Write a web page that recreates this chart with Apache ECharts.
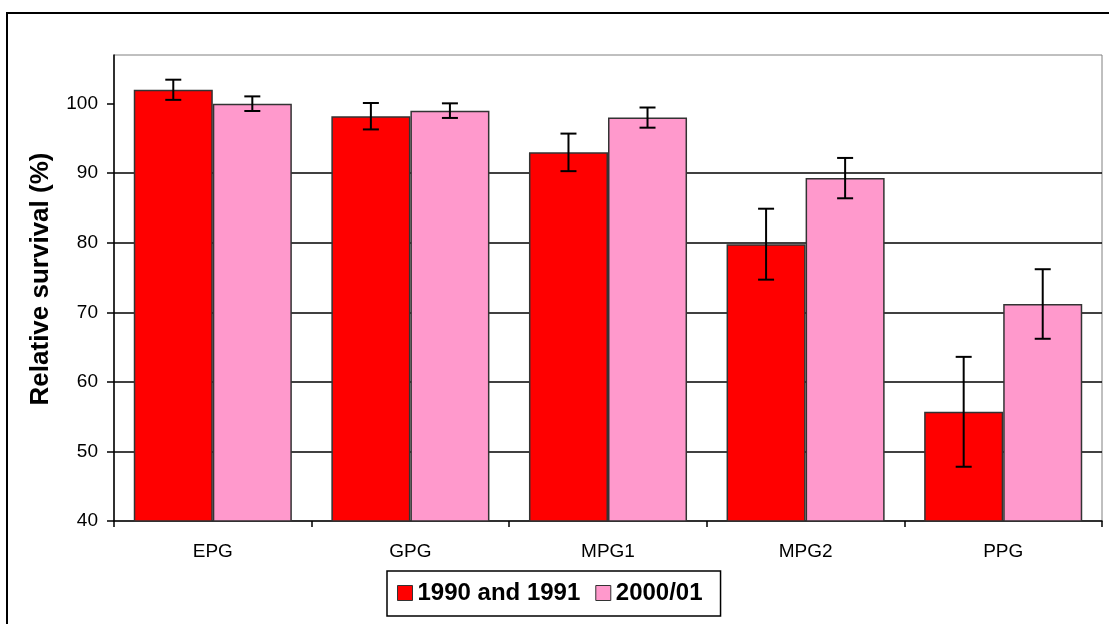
<!DOCTYPE html>
<html>
<head>
<meta charset="utf-8">
<script src="https://cdn.jsdelivr.net/npm/echarts@6/dist/echarts.min.js"></script>
<style>
html,body{margin:0;padding:0;background:#fff;}
#c{width:1109px;height:624px;}
</style>
</head>
<body>
<div id="c"></div>
<script>
const categories = ['EPG', 'GPG', 'MPG1', 'MPG2', 'PPG'];
const seriesNames = ['1990 and 1991', '2000/01'];
const values1990 = [102.0, 98.2, 93.0, 79.8, 55.7];
const errors1990 = [1.45, 1.9, 2.7, 5.1, 7.9];
const values2000 = [100.0, 99.0, 98.0, 89.3, 71.2];
const errors2000 = [1.05, 1.05, 1.45, 2.9, 5.0];
const yTicks = [40, 50, 60, 70, 80, 90, 100];
const yTitle = 'Relative survival (%)';

const FONT = '"Liberation Sans", Arial, sans-serif';
const colors = ['#FF0000', '#FF99CC'];

function errData(vals, errs) {
  return vals.map((v, i) => [i, v - errs[i], v + errs[i]]);
}

function errRender(side) {
  return function (params, api) {
    const i = api.value(0);
    const band = api.size([1, 0])[0];
    const c = api.coord([i, api.value(1)]);
    const x = c[0] + side * band * 0.2;
    const yLow = c[1];
    const yHigh = api.coord([i, api.value(2)])[1];
    const cap = 8;
    const style = { stroke: '#000', lineWidth: 2 };
    return {
      type: 'group',
      children: [
        { type: 'line', shape: { x1: x, y1: yLow, x2: x, y2: yHigh }, style },
        { type: 'line', shape: { x1: x - cap, y1: yLow, x2: x + cap, y2: yLow }, style },
        { type: 'line', shape: { x1: x - cap, y1: yHigh, x2: x + cap, y2: yHigh }, style }
      ]
    };
  };
}

const chart = echarts.init(document.getElementById('c'), null, { renderer: 'canvas' });
chart.setOption({
  animation: false,
  backgroundColor: '#fff',
  textStyle: { fontFamily: FONT },
  grid: {
    left: 114, top: 55, right: 7, bottom: 103,
    show: true, borderColor: '#808080', borderWidth: 1, backgroundColor: 'transparent'
  },
  legend: {
    left: 387, top: 571,
    padding: [10, 18, 11, 10],
    borderColor: '#000', borderWidth: 1.5,
    itemWidth: 15, itemHeight: 15, itemGap: 15,
    textStyle: { fontFamily: FONT, fontSize: 24, fontWeight: 'bold', color: '#000' },
    data: seriesNames.map((n, i) => ({ name: n, icon: 'rect', itemStyle: { color: colors[i], borderColor: '#333', borderWidth: 1 } }))
  },
  xAxis: {
    type: 'category',
    data: categories,
    axisLine: { lineStyle: { color: '#000', width: 1.5 } },
    axisTick: { show: true, length: 6, alignWithLabel: false, lineStyle: { color: '#000', width: 1.5 } },
    axisLabel: { margin: 21, fontSize: 19, color: '#000', fontFamily: FONT },
    splitLine: { show: false }
  },
  yAxis: {
    type: 'value',
    min: 40, max: 107, interval: 10,
    axisLine: { show: true, lineStyle: { color: '#000', width: 1.5 } },
    axisTick: { show: true, length: 7, customValues: yTicks, lineStyle: { color: '#000', width: 1.5 } },
    axisLabel: { margin: 16, fontSize: 19, color: '#000', fontFamily: FONT, customValues: yTicks },
    splitLine: { show: true, showMinLine: false, showMaxLine: false, lineStyle: { color: '#000', width: 1.5 } }
  },
  graphic: [
    { type: 'rect', shape: { x: 7, y: 13, width: 1200, height: 700 }, style: { fill: 'none', stroke: '#000', lineWidth: 2 }, silent: true },
    { type: 'text', x: 41, y: 279, rotation: Math.PI / 2,
      style: { text: yTitle, font: 'bold 26px ' + FONT, fill: '#000', align: 'center', verticalAlign: 'middle' } }
  ],
  series: [
    {
      name: seriesNames[0], type: 'bar', data: values1990,
      barGap: '0%', barCategoryGap: '20%',
      itemStyle: { color: colors[0], borderColor: '#333', borderWidth: 1.5 }
    },
    {
      name: seriesNames[1], type: 'bar', data: values2000,
      barGap: '0%', barCategoryGap: '20%',
      itemStyle: { color: colors[1], borderColor: '#333', borderWidth: 1.5 }
    },
    { type: 'custom', name: 'err1', renderItem: errRender(-1), data: errData(values1990, errors1990), z: 5 },
    { type: 'custom', name: 'err2', renderItem: errRender(1), data: errData(values2000, errors2000), z: 5 }
  ]
});
</script>
</body>
</html>
